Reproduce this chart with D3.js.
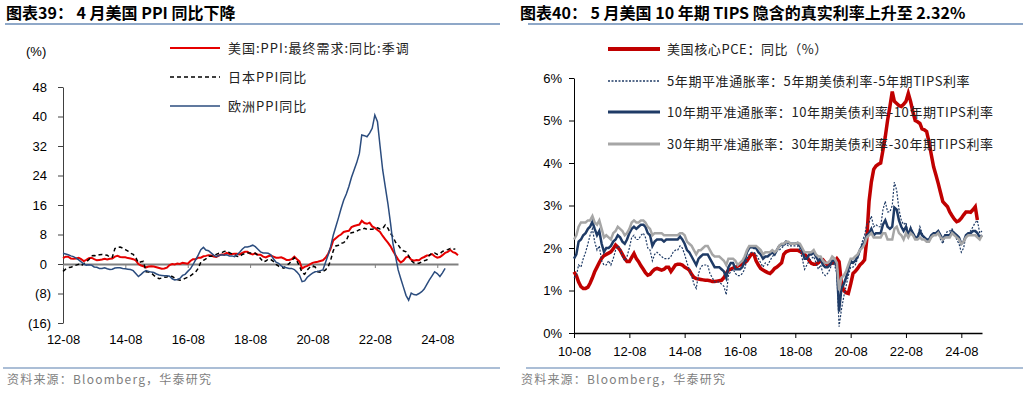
<!DOCTYPE html>
<html>
<head>
<meta charset="utf-8">
<script src="https://cdn.jsdelivr.net/npm/d3@7"></script>
<style>
  body { margin: 0; background: #fff; }
  svg text { font-family: "Liberation Sans", Arial, "Noto Sans CJK SC", sans-serif; }
  .cjk { font-family: "Noto Sans CJK SC", sans-serif; }
</style>
</head>
<body>
<svg id="chart" width="1029" height="393"></svg>
<script>
// ---- 图表39 data: monthly, US from 2012-08, Japan / Euro same start ----
const ppiStart = new Date(2012, 7, 1)
const usPPI = [
  1.6, 2.0, 2.0, 1.5, 1.4,
  1.5, 1.7, 1.3, 0.8, 1.1, 1.6, 1.7, 1.3, 1.0, 1.1, 1.2, 1.4,
  1.2, 1.4, 1.5, 2.0, 2.2, 1.9, 1.8, 1.8, 1.6, 1.5, 1.3, 1.0,
  0.0, -0.4, -0.6, -0.9, -0.7, -0.6, -0.7, -0.9, -1.1, -1.3, -1.2, -1.0,
  -0.3, 0.0, -0.1, 0.1, 0.0, 0.3, 0.2, 0.1, 0.8, 1.3, 1.3, 1.7,
  1.7, 2.1, 2.2, 2.4, 2.3, 2.0, 1.9, 2.3, 2.6, 2.6, 3.0, 2.7,
  2.7, 2.8, 2.8, 2.6, 3.0, 3.3, 3.3, 2.8, 2.6, 2.9, 2.5, 2.5,
  2.0, 1.8, 2.1, 2.3, 2.0, 1.7, 1.7, 1.8, 1.5, 1.1, 1.1, 1.3,
  2.0, 1.3, 0.7, -1.2, -0.8, -0.5, -0.1, 0.3, 0.5, 0.6, 0.8, 1.0,
  1.7, 2.8, 4.2, 6.4, 7.0, 7.6, 8.0, 8.7, 8.9, 9.0, 10.0, 10.3,
  10.5, 10.7, 11.7, 11.1, 10.9, 11.2, 10.2, 9.8, 9.2, 8.7, 7.6, 6.7,
  5.8, 4.8, 3.6, 2.4, 1.2, 0.4, 0.9, 1.8, 2.0, 1.2, 0.9, 1.1,
  1.0, 1.6, 1.9, 2.3, 2.4, 2.7, 2.1, 1.7, 1.9, 2.4, 3.0, 3.3,
  3.8, 3.2, 3.0, 2.4
]
const jpPPI = [
  -2.0, -1.4, -1.0, -0.9, -0.6,
  -0.3, -0.1, -0.5, 0.1, 0.6, 1.2, 2.2, 2.3, 2.2, 2.5, 2.6, 2.5,
  2.4, 1.8, 1.8, 4.2, 4.5, 4.6, 4.3, 3.9, 3.5, 2.9, 2.6, 1.8,
  0.3, 0.6, 0.7, -2.1, -2.2, -2.4, -3.1, -3.6, -4.0, -3.8, -3.6, -3.5,
  -3.2, -3.4, -3.8, -4.2, -4.4, -4.2, -3.9, -3.6, -3.2, -2.7, -2.2, -1.2,
  0.5, 1.0, 1.4, 2.1, 2.1, 2.2, 2.6, 2.9, 3.0, 3.4, 3.5, 3.1,
  2.7, 2.5, 2.1, 2.0, 2.6, 2.8, 3.0, 3.0, 3.0, 2.9, 2.3, 1.5,
  0.6, 0.8, 1.3, 1.2, 0.7, -0.1, -0.6, -0.9, -1.1, -0.4, 0.1, 0.9,
  1.7, 0.8, -0.5, -2.4, -2.8, -1.6, -0.9, -0.5, -0.8, -2.1, -2.2, -2.0,
  -1.6, -0.7, 1.0, 3.6, 4.9, 5.1, 5.6, 5.8, 6.4, 8.0, 8.5, 8.6,
  8.9, 9.3, 9.3, 9.7, 9.4, 9.4, 9.4, 9.7, 9.8, 9.5, 9.6, 10.6,
  9.7, 8.3, 7.4, 5.9, 5.2, 4.1, 3.6, 3.3, 2.2, 0.9, 0.3, 0.2,
  0.2, 0.6, 0.9, 1.1, 2.4, 2.9, 3.0, 2.6, 2.8, 3.4, 3.7, 3.9,
  4.2, 4.0, 4.1
]
const euPPI = [
  2.9, 2.7, 2.5, 2.2, 2.0,
  1.6, 1.1, 0.6, 0.0, -0.3, -0.2, -0.3, -0.8, -0.9, -1.2, -1.2, -1.0,
  -1.3, -1.5, -1.4, -1.1, -1.0, -1.0, -1.2, -1.3, -1.4, -1.5, -1.8, -2.6,
  -3.4, -2.8, -2.2, -1.8, -2.0, -2.2, -2.3, -2.7, -3.0, -3.1, -3.2, -3.2,
  -3.3, -4.0, -4.3, -4.2, -3.9, -3.1, -2.8, -2.0, -1.3, -0.2, 1.1, 2.4,
  3.9, 4.5, 3.8, 3.6, 3.0, 2.4, 2.0, 2.3, 2.5, 2.4, 2.5, 2.2,
  2.2, 2.0, 2.5, 3.2, 4.0, 4.6, 4.6, 4.8, 5.1, 4.7, 4.0, 3.3,
  3.0, 3.0, 2.9, 2.5, 1.4, 0.5, 0.2, -0.5, -0.9, -1.0, -1.2, -1.2,
  -1.5, -2.2, -3.0, -4.8, -4.6, -3.6, -3.0, -2.5, -2.1, -2.0, -1.8, -1.6,
  0.5, 2.5, 4.7, 7.8, 10.1, 12.5, 15.0, 17.3, 19.0, 21.0, 23.5, 25.5,
  27.5, 30.0, 35.0, 34.8, 34.5, 35.5, 36.8, 40.4, 38.6, 32.0, 25.5, 21.0,
  16.4, 11.0, 5.6, 2.0, -1.6, -4.0, -6.2, -8.5, -9.8, -7.9, -8.3, -8.4,
  -8.0, -7.5, -6.8, -5.5, -4.3, -3.2, -2.1, -2.6, -3.4, -2.4, -1.2
]
const ppiNames = ["美国:PPI:最终需求:同比:季调", "日本PPI同比", "欧洲PPI同比"]
const ppiYTicks = [48, 40, 32, 24, 16, 8, 0, -8, -16]
const ppiYLabels = ["48", "40", "32", "24", "16", "8", "0", "(8)", "(16)"]
const ppiXLabels = ["12-08", "14-08", "16-08", "18-08", "20-08", "22-08", "24-08"]

// ---- 图表40 data: monthly from 2010-08 ----
const beStart = new Date(2010, 7, 1)
const corePCE = [
  1.44, 1.35, 1.2, 1.09, 1.05,
  1.05, 1.08, 1.17, 1.3, 1.44, 1.55, 1.66, 1.76, 1.82, 1.85, 1.88, 1.91,
  1.98, 2.07, 2.02, 1.95, 1.85, 1.75, 1.68, 1.68, 1.78, 1.87, 1.75, 1.68,
  1.58, 1.5, 1.42, 1.36, 1.38, 1.45, 1.5, 1.52, 1.5, 1.48, 1.5, 1.55,
  1.55, 1.45, 1.52, 1.6, 1.62, 1.62, 1.6, 1.55, 1.52, 1.48, 1.38, 1.31,
  1.28, 1.27, 1.26, 1.25, 1.24, 1.24, 1.23, 1.21, 1.21, 1.22, 1.23, 1.24,
  1.3, 1.4, 1.48, 1.5, 1.53, 1.55, 1.57, 1.6, 1.62, 1.65, 1.7, 1.78,
  1.86, 1.85, 1.7, 1.6, 1.52, 1.48, 1.45, 1.42, 1.4, 1.45, 1.52, 1.55,
  1.6, 1.65, 1.85, 1.91, 1.93, 1.95, 1.95, 1.95, 1.95, 1.92, 1.88, 1.85,
  1.8, 1.7, 1.64, 1.62, 1.62, 1.65, 1.7, 1.72, 1.65, 1.6, 1.62, 1.64,
  1.68, 1.75, 1.68, 1.17, 1.0, 0.95, 0.93, 1.15, 1.4, 1.45, 1.52, 1.6,
  1.65, 1.72, 2.19, 3.1, 3.55, 3.85, 3.93, 3.97, 4.0, 4.3, 4.62, 5.0,
  5.33, 5.68, 5.45, 5.4, 5.35, 5.33, 5.38, 5.45, 5.64, 5.45, 5.2, 5.0,
  4.97, 4.93, 4.8, 4.78, 4.74, 4.5, 4.2, 3.91, 3.72, 3.52, 3.3, 3.09,
  3.03, 2.97, 2.85, 2.76, 2.68, 2.62, 2.64, 2.7, 2.78, 2.85, 2.85, 2.84,
  2.9, 2.97, 2.66
]
const be5y = [
  1.3, 1.35, 1.6, 1.55, 1.75,
  1.9, 2.1, 2.3, 2.45, 2.15, 1.95, 2.05, 1.7, 1.6, 1.6, 1.7, 1.6,
  1.75, 1.95, 2.05, 2.0, 1.8, 1.7, 1.8, 2.0, 2.25, 2.3, 2.2, 2.2,
  2.3, 2.35, 2.25, 2.0, 1.95, 1.7, 1.85, 1.9, 1.85, 1.8, 1.75, 1.75,
  1.75, 1.8, 1.9, 1.95, 1.95, 2.05, 2.0, 1.85, 1.65, 1.5, 1.35, 1.15,
  1.05, 1.4, 1.55, 1.6, 1.6, 1.6, 1.4, 1.3, 1.2, 1.2, 1.2, 1.15,
  1.1, 0.9, 1.35, 1.45, 1.5, 1.4, 1.35, 1.35, 1.4, 1.5, 1.75, 1.85,
  1.9, 1.9, 1.85, 1.75, 1.65, 1.55, 1.65, 1.6, 1.7, 1.8, 1.85, 1.95,
  1.95, 2.0, 2.05, 2.1, 2.05, 2.05, 2.05, 2.05, 2.05, 1.95, 1.75, 1.5,
  1.6, 1.7, 1.75, 1.8, 1.65, 1.5, 1.6, 1.4, 1.35, 1.4, 1.5, 1.65,
  1.6, 1.4, 0.15, 0.55, 0.85, 1.1, 1.35, 1.55, 1.55, 1.6, 1.75, 1.95,
  2.15, 2.3, 2.55, 2.6, 2.75, 2.5, 2.55, 2.5, 2.5, 2.9, 3.1, 2.85,
  2.85, 3.0, 3.55, 3.35, 2.9, 2.65, 2.55, 2.6, 2.3, 2.5, 2.35, 2.25,
  2.25, 2.5, 2.35, 2.25, 2.2, 2.15, 2.3, 2.3, 2.3, 2.35, 2.2, 2.1,
  2.3, 2.4, 2.4, 2.45, 2.35, 2.2, 2.1, 1.9, 2.0, 2.3, 2.35, 2.4,
  2.5, 2.6, 2.65, 2.35, 2.4
]
const be10y = [
  1.75, 1.85, 2.15, 2.2, 2.3,
  2.35, 2.45, 2.5, 2.62, 2.45, 2.3, 2.4, 2.1, 1.91, 2.0, 2.0, 2.05,
  2.15, 2.2, 2.3, 2.25, 2.15, 2.1, 2.2, 2.35, 2.45, 2.5, 2.45, 2.5,
  2.55, 2.55, 2.5, 2.35, 2.3, 2.05, 2.15, 2.2, 2.2, 2.2, 2.15, 2.2,
  2.2, 2.2, 2.2, 2.2, 2.2, 2.27, 2.2, 2.1, 1.95, 1.9, 1.8, 1.7,
  1.6, 1.75, 1.8, 1.85, 1.85, 1.85, 1.75, 1.65, 1.55, 1.55, 1.55, 1.5,
  1.45, 1.3, 1.55, 1.65, 1.65, 1.5, 1.5, 1.5, 1.55, 1.7, 1.9, 2.0,
  2.03, 2.0, 2.0, 1.9, 1.85, 1.75, 1.8, 1.8, 1.85, 1.9, 1.85, 1.95,
  2.05, 2.08, 2.08, 2.15, 2.12, 2.1, 2.1, 2.1, 2.12, 2.05, 1.95, 1.75,
  1.75, 1.85, 1.85, 1.9, 1.8, 1.7, 1.75, 1.6, 1.55, 1.55, 1.6, 1.7,
  1.7, 1.55, 0.5, 1.05, 1.15, 1.3, 1.5, 1.7, 1.65, 1.7, 1.8, 1.95,
  2.05, 2.15, 2.3, 2.35, 2.45, 2.3, 2.35, 2.35, 2.35, 2.55, 2.65, 2.5,
  2.45, 2.5, 2.95, 2.9, 2.65, 2.5, 2.4, 2.5, 2.3, 2.45, 2.35, 2.25,
  2.25, 2.4, 2.3, 2.25, 2.2, 2.2, 2.3, 2.35, 2.35, 2.4, 2.3, 2.2,
  2.3, 2.3, 2.3, 2.4, 2.35, 2.3, 2.25, 2.1, 2.15, 2.3, 2.35, 2.35,
  2.4, 2.4, 2.35, 2.25, 2.3
]
const be30y = [
  2.2, 2.3, 2.5, 2.6, 2.6,
  2.6, 2.65, 2.65, 2.75, 2.6, 2.55, 2.65, 2.45, 2.25, 2.3, 2.25, 2.2,
  2.35, 2.4, 2.5, 2.45, 2.4, 2.3, 2.35, 2.45, 2.6, 2.65, 2.6, 2.6,
  2.65, 2.65, 2.6, 2.5, 2.45, 2.3, 2.35, 2.35, 2.35, 2.35, 2.3, 2.3,
  2.3, 2.3, 2.3, 2.3, 2.3, 2.35, 2.35, 2.3, 2.15, 2.1, 2.05, 1.95,
  1.85, 1.95, 1.95, 2.0, 2.05, 2.05, 1.95, 1.85, 1.8, 1.8, 1.8, 1.75,
  1.7, 1.6, 1.75, 1.75, 1.75, 1.7, 1.6, 1.65, 1.7, 1.8, 1.95, 2.05,
  2.05, 2.05, 2.05, 2.0, 1.95, 1.85, 1.9, 1.9, 1.9, 1.95, 1.9, 1.95,
  2.05, 2.1, 2.1, 2.15, 2.15, 2.1, 2.1, 2.1, 2.12, 2.1, 2.0, 1.9,
  1.9, 1.9, 1.9, 1.95, 1.85, 1.8, 1.8, 1.7, 1.65, 1.65, 1.7, 1.8,
  1.75, 1.65, 1.0, 1.3, 1.35, 1.45, 1.6, 1.75, 1.75, 1.8, 1.85, 1.95,
  2.0, 2.1, 2.25, 2.3, 2.35, 2.25, 2.25, 2.25, 2.25, 2.35, 2.35, 2.2,
  2.2, 2.2, 2.45, 2.5, 2.35, 2.3, 2.2, 2.35, 2.25, 2.35, 2.3, 2.2,
  2.2, 2.25, 2.2, 2.2, 2.15, 2.15, 2.25, 2.3, 2.3, 2.35, 2.25, 2.2,
  2.25, 2.25, 2.25, 2.35, 2.3, 2.25, 2.2, 2.1, 2.15, 2.25, 2.3, 2.3,
  2.3, 2.3, 2.25, 2.2, 2.3
]
const beNames = [
  "美国核心PCE：同比（%）",
  "5年期平准通胀率：5年期美债利率-5年期TIPS利率",
  "10年期平准通胀率：10年期美债利率-10年期TIPS利率",
  "30年期平准通胀率：30年期美债利率-30年期TIPS利率"
]
const beYTicks = [0, 1, 2, 3, 4, 5, 6]
const beYLabels = ["0%", "1%", "2%", "3%", "4%", "5%", "6%"]
const beXLabels = ["10-08", "12-08", "14-08", "16-08", "18-08", "20-08", "22-08", "24-08"]

const titles = ["图表39：  4 月美国 PPI 同比下降", "图表40：  5 月美国 10 年期 TIPS 隐含的真实利率上升至 2.32%"]
const source = "资料来源：Bloomberg，华泰研究"

// helpers
const parseLabel = d3.timeParse("%y-%m")
const toSeries = (start, vals) => vals.map((v, i) => ({ date: d3.timeMonth.offset(start, i), v: v }))

var svg = d3.select("#chart")

// titles, rules, footers
const panelX = [6, 520]
const ruleX = [[5, 500], [528, 1023]]
titles.forEach((t, i) => {
  svg.append("text").attr("x", panelX[i]).attr("y", 19)
    .attr("class", "cjk").style("font-size", "16px").style("font-weight", "bold").attr("fill", "#000")
    .text(t)
  svg.append("line").attr("x1", ruleX[i][0]).attr("x2", ruleX[i][1]).attr("y1", 24).attr("y2", 24)
    .attr("stroke", "#8fa8c8").attr("stroke-width", 2)
  svg.append("line").attr("x1", ruleX[i][0] - 2).attr("x2", ruleX[i][1]).attr("y1", 368).attr("y2", 368)
    .attr("stroke", "#8fa8c8").attr("stroke-width", 1.5)
  svg.append("text").attr("x", panelX[i] + 1).attr("y", 384)
    .attr("class", "cjk").style("font-size", "12px").style("letter-spacing", "1.2px").attr("fill", "#7f7f7f")
    .text(source)
})

// ================= left chart =================
var xL = d3.scaleTime().domain([new Date(2012, 7, 1), new Date(2025, 3, 1)]).range([63, 458])
var yL = d3.scaleLinear().domain([-16, 48]).range([323, 87])

var gy = svg.append("g").attr("transform", "translate(63,0)")
  .call(d3.axisLeft(yL).tickValues(ppiYTicks).tickFormat((d, i) => ppiYLabels[i])
    .tickSize(5).tickSizeOuter(0).tickPadding(7))
gy.select(".domain").attr("stroke", "#404040")
gy.selectAll(".tick line").attr("stroke", "#404040")
gy.selectAll("text").style("font-size", "13px").attr("fill", "#000")
  .attr("dx", (d, i) => ppiYLabels[i].endsWith(")") ? 0 : -4)

svg.append("text").attr("x", 26).attr("y", 56).style("font-size", "13px").text("(%)")

var gx = svg.append("g").attr("transform", "translate(0," + yL(0) + ")")
  .call(d3.axisBottom(xL).tickValues(ppiXLabels.map(parseLabel)).tickFormat(d3.timeFormat("%y-%m"))
    .tickSize(4).tickSizeOuter(0))
gx.select(".domain").attr("stroke", "#808080").attr("stroke-width", 2)
gx.selectAll(".tick line").attr("stroke", "#808080")
gx.selectAll("text").attr("y", 71).style("font-size", "13px").attr("fill", "#000")

var lineL = d3.line().x(d => xL(d.date)).y(d => yL(d.v))
const ppiStyles = [
  { c: "#e60000", w: 2, dash: null },
  { c: "#000000", w: 1.5, dash: "4,3" },
  { c: "#2b4c7e", w: 1.5, dash: null }
]
;[usPPI, jpPPI, euPPI].forEach((vals, i) => {
  svg.append("path").datum(toSeries(ppiStart, vals))
    .attr("d", lineL).attr("fill", "none")
    .attr("stroke", ppiStyles[i].c).attr("stroke-width", ppiStyles[i].w)
    .attr("stroke-dasharray", ppiStyles[i].dash)
})

const ppiLegY = [48, 77, 106]
ppiNames.forEach((n, i) => {
  svg.append("line").attr("x1", 170).attr("x2", 220).attr("y1", ppiLegY[i]).attr("y2", ppiLegY[i])
    .attr("stroke", ppiStyles[i].c).attr("stroke-width", ppiStyles[i].w)
    .attr("stroke-dasharray", ppiStyles[i].dash)
  svg.append("text").attr("x", 228).attr("y", ppiLegY[i] + 4.5)
    .attr("class", "cjk").style("font-size", "13px").style("letter-spacing", "1px").attr("fill", "#222")
    .text(n)
})

// ================= right chart =================
var xR = d3.scaleTime().domain([new Date(2010, 7, 1), new Date(2025, 4, 1)]).range([574, 982])
var yR = d3.scaleLinear().domain([0, 6]).range([333, 78])

var gyR = svg.append("g").attr("transform", "translate(574,0)")
  .call(d3.axisLeft(yR).tickValues(beYTicks).tickFormat((d, i) => beYLabels[i])
    .tickSize(5).tickSizeOuter(0).tickPadding(7))
gyR.selectAll("path, line").attr("stroke", "#000")
gyR.selectAll("text").style("font-size", "13px").attr("fill", "#000")

var gxR = svg.append("g").attr("transform", "translate(0,333)")
  .call(d3.axisBottom(xR).tickValues(beXLabels.map(parseLabel)).tickFormat(d3.timeFormat("%y-%m"))
    .tickSize(5).tickSizeOuter(0).tickPadding(9))
gxR.select(".domain").attr("stroke", "#000").attr("stroke-width", 1.5)
gxR.selectAll(".tick line").attr("stroke", "#000")
gxR.selectAll("text").style("font-size", "13px").attr("fill", "#000")

var lineR = d3.line().x(d => xR(d.date)).y(d => yR(d.v))
const beStyles = [
  { c: "#c00000", w: 3.5, dash: null },
  { c: "#1f3b66", w: 1.2, dash: "2,1.5" },
  { c: "#1f3b66", w: 2.5, dash: null },
  { c: "#a6a6a6", w: 2.5, dash: null }
]
;[corePCE, be5y, be10y, be30y].forEach((vals, i) => {
  svg.append("path").datum(toSeries(beStart, vals))
    .attr("d", lineR).attr("fill", "none")
    .attr("stroke", beStyles[i].c).attr("stroke-width", beStyles[i].w)
    .attr("stroke-dasharray", beStyles[i].dash)
})

const beLegY = [49, 81, 112, 144]
beNames.forEach((n, i) => {
  svg.append("line").attr("x1", 608).attr("x2", 660).attr("y1", beLegY[i]).attr("y2", beLegY[i])
    .attr("stroke", beStyles[i].c).attr("stroke-width", i === 0 ? 4 : beStyles[i].w + 0.5)
    .attr("stroke-dasharray", beStyles[i].dash)
  svg.append("text").attr("x", 667).attr("y", beLegY[i] + 4.5)
    .attr("class", "cjk").style("font-size", "13px").style("letter-spacing", "0.6px").attr("fill", "#222")
    .text(n)
})
</script>
</body>
</html>
